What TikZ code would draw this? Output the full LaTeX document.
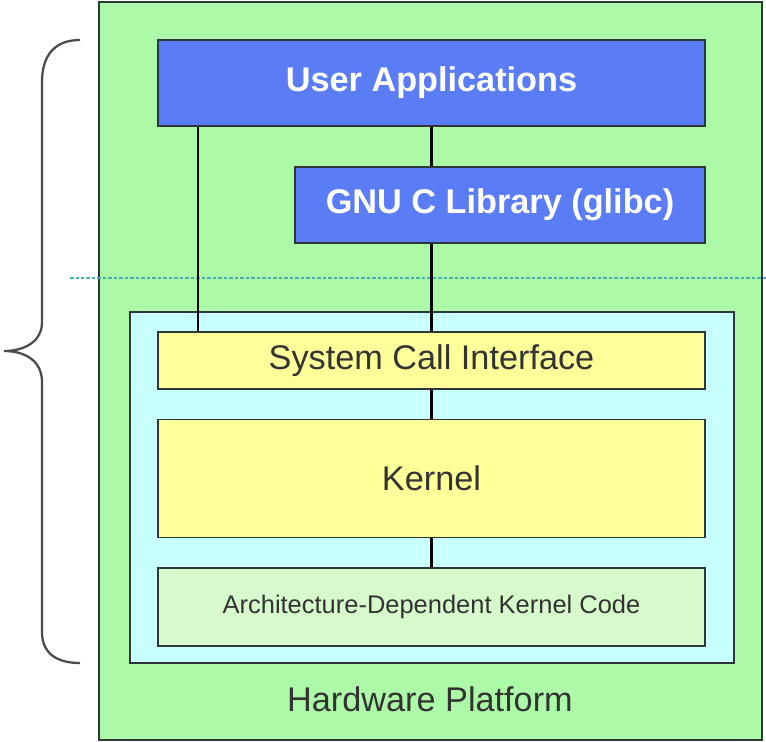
\documentclass[tikz,border=0pt]{standalone}
\usepackage{fontspec}
\setmainfont{Liberation Sans}
\usepackage{tikz}
\usetikzlibrary{positioning}
\definecolor{hwgreen}{RGB}{172, 250, 168}
\definecolor{kcyan}{RGB}{200, 255, 255}
\definecolor{userblue}{RGB}{90, 125, 245}
\definecolor{kyellow}{RGB}{255, 255, 153}
\definecolor{archgreen}{RGB}{215, 250, 205}
\definecolor{edge}{RGB}{45, 55, 55}
\definecolor{sepline}{RGB}{70, 175, 175}

\begin{document}
\begin{tikzpicture}[
  x=0.02cm, y=-0.02cm,
  layer/.style   = {rectangle, draw=edge, line width=0.9pt, inner sep=0pt,
                    align=center, text=black!80,
                    font=\fontsize{19.5}{23}\selectfont},
  userbox/.style = {layer, fill=userblue, text=white,
                    font=\fontsize{19.5}{23}\selectfont\bfseries},
  kbox/.style    = {layer, fill=kyellow, minimum width=10.94cm},
  link/.style    = {line width=1.7pt, black},
]
  \useasboundingbox (0,0) rectangle (766,742);

  % Hardware platform (outer frame)
  \node[layer, fill=hwgreen, minimum width=13.26cm, minimum height=14.76cm]
    (hw) at (430.5,371) {};
  \node[font=\fontsize{19.5}{23}\selectfont, text=black!80] (hwlabel) at (430,699) {Hardware Platform};

  % User space
  \node[userbox, minimum width=10.94cm, minimum height=1.72cm] (apps) at (431.5,83) {User Applications};
  \node[userbox, minimum width=8.2cm, minimum height=1.52cm] (glibc) at (500,205) {GNU C Library (glibc)};

  % Separator between user space and kernel space
  \coordinate (sepL) at (70,278);
  \coordinate (sepR) at (766,278);
  \draw[sepline, line width=1.5pt, dash pattern=on 0.07cm off 0.04cm] (sepL) -- (sepR);

  % Kernel space
  \node[layer, fill=kcyan, minimum width=12.08cm, minimum height=7.02cm] (kspace) at (432,487.5) {};
  \node[kbox, minimum height=1.14cm] (sci) at (431.5,360.5) {System Call Interface};
  \node[kbox, minimum height=2.36cm, below=0.58cm of sci] (kernel) {Kernel};
  \node[layer, fill=archgreen, minimum width=10.94cm, minimum height=1.56cm,
        font=\fontsize{14.5}{17}\selectfont, below=0.58cm of kernel] (arch)
    {Architecture-Dependent Kernel Code};

  % Connections
  \coordinate (tap) at (198,0);
  \draw[link] (apps.south -| tap) -- (sci.north -| tap);
  \draw[link] (apps.south) -- (apps.south |- glibc.north);
  \draw[link] (glibc.south -| sci.north) -- (sci.north);
  \draw[link] (sci.south) -- (kernel.north);
  \draw[link] (kernel.south) -- (arch.north);

  % Brace
  \coordinate (braceTop) at (80,40);
  \coordinate (braceTip) at (4,351);
  \coordinate (braceBot) at (80,663);
  \draw[black!70, line width=1.3pt]
    (braceTop) .. controls (55,40) and (42,55) .. (42,82)
    -- (42,322) .. controls (42,342) and (24,351) .. (braceTip)
    .. controls (24,351) and (42,360) .. (42,382)
    -- (42,632) .. controls (42,652) and (55,663) .. (braceBot);
\end{tikzpicture}
\end{document}
